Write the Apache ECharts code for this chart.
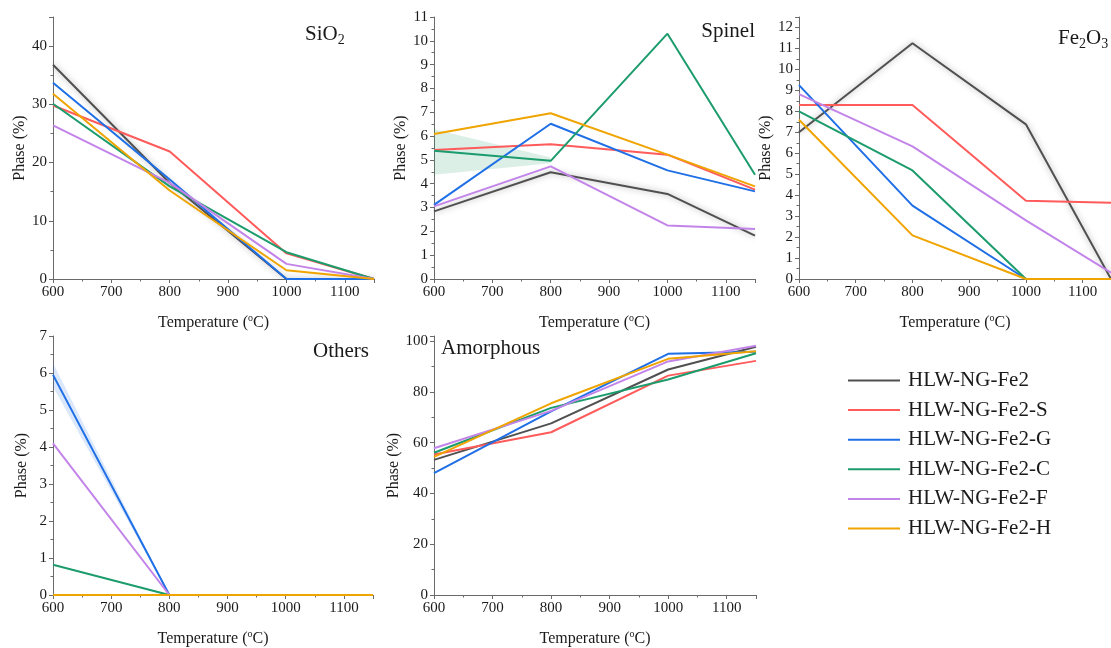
<!DOCTYPE html>
<html>
<head>
<meta charset="utf-8">
<script src="https://cdn.jsdelivr.net/npm/echarts@6/dist/echarts.min.js"></script>
<style>
  html, body { margin: 0; padding: 0; background: #fff; }
  #chart { width: 1111px; height: 648px; }
</style>
</head>
<body>
<div id="chart"></div>
<script>
// Firing temperatures (°C) shared by every panel
const temps = [600, 800, 1000, 1150];

const sampleNames = ['HLW-NG-Fe2', 'HLW-NG-Fe2-S', 'HLW-NG-Fe2-G', 'HLW-NG-Fe2-C', 'HLW-NG-Fe2-F', 'HLW-NG-Fe2-H'];
const sampleColors = ['#505050', '#ff5b5b', '#1f6fe6', '#1c9c6c', '#c384ea', '#f0a400'];

// SiO2 phase content (%)
const sio2Fe2 = [36.8, 16.5, 0, 0];
const sio2S   = [29.8, 21.9, 4.4, 0];
const sio2G   = [33.7, 17.1, 0, 0];
const sio2C   = [30.1, 15.9, 4.6, 0];
const sio2F   = [26.4, 16.5, 2.6, 0];
const sio2H   = [31.8, 15.2, 1.5, 0];

// Spinel phase content (%)
const spinelFe2 = [2.84, 4.48, 3.57, 1.82];
const spinelS   = [5.42, 5.66, 5.22, 3.75];
const spinelG   = [3.11, 6.52, 4.56, 3.68];
const spinelC   = [5.38, 4.96, 10.3, 4.38];
const spinelF   = [3.05, 4.73, 2.25, 2.10];
const spinelH   = [6.09, 6.96, 5.22, 3.89];
// uncertainty band of HLW-NG-Fe2-C spinel (600 and 800 °C)
const spinelCBandTemps = [600, 800];
const spinelCBandLow   = [4.38, 4.86];
const spinelCBandHigh  = [6.29, 5.10];

// Fe2O3 phase content (%)
const fe2o3Fe2 = [7.0, 11.25, 7.38, 0];
const fe2o3S   = [8.3, 8.3, 3.73, 3.64];
const fe2o3G   = [9.25, 3.5, 0, 0];
const fe2o3C   = [8.0, 5.18, 0, 0];
const fe2o3F   = [8.82, 6.33, 2.8, 0.3];
const fe2o3H   = [7.6, 2.08, 0, 0];

// Other crystalline phases (%)
const othersFe2 = [0, 0, 0, 0];
const othersS   = [0, 0, 0, 0];
const othersG   = [5.95, 0, 0, 0];
const othersC   = [0.82, 0, 0, 0];
const othersF   = [4.1, 0, 0, 0];
const othersH   = [0, 0, 0, 0];
// uncertainty band of HLW-NG-Fe2-G others (600 and 800 °C)
const othersGBandTemps = [600, 800];
const othersGBandLow   = [5.63, 0];
const othersGBandHigh  = [6.27, 0];

// Amorphous phase content (%)
const amorFe2 = [53.2, 67.6, 88.8, 97.8];
const amorS   = [55.3, 64.1, 86.4, 92.2];
const amorG   = [48.0, 72.3, 95.0, 95.8];
const amorC   = [56.0, 73.7, 84.9, 95.2];
const amorF   = [57.8, 72.5, 92.0, 98.2];
const amorH   = [54.4, 75.5, 93.0, 96.0];

// y-axis ranges per panel
const yMaxes     = [45, 11, 12.5, 7, 102];
const yIntervals = [10, 1, 1, 1, 20];

const FONT = "'Liberation Serif', 'DejaVu Serif', 'Times New Roman', serif";
const TXT = '#1a1a1a';
const AXIS = '#6a6a6a';

const panels = [
  { values: [sio2Fe2, sio2S, sio2G, sio2C, sio2F, sio2H], grid: { left: 53, top: 17, width: 321, height: 262 } },
  { values: [spinelFe2, spinelS, spinelG, spinelC, spinelF, spinelH], grid: { left: 434, top: 17, width: 321, height: 262 } },
  { values: [fe2o3Fe2, fe2o3S, fe2o3G, fe2o3C, fe2o3F, fe2o3H], grid: { left: 799, top: 17, width: 321, height: 262 } },
  { values: [othersFe2, othersS, othersG, othersC, othersF, othersH], grid: { left: 53, top: 336, width: 320, height: 261 } },
  { values: [amorFe2, amorS, amorG, amorC, amorF, amorH], grid: { left: 434, top: 336, width: 322, height: 261 } }
];

const nameStyle = {
  fontFamily: FONT, fontSize: 16, color: TXT,
  rich: { sup: { fontFamily: FONT, fontSize: 10, color: TXT, padding: [0, 0, 10, 0] } }
};

const grids = panels.map(p => Object.assign({ containLabel: false }, p.grid));

const plainNumber = v => String(v);

const xAxes = panels.map((p, i) => ({
  type: 'value', gridIndex: i, min: 600, max: 1150, interval: 100,
  axisLine: { show: true, onZero: false, lineStyle: { color: AXIS, width: 1 } },
  axisTick: { show: true, inside: false, length: 4, lineStyle: { color: AXIS } },
  minorTick: { show: true, splitNumber: 2, length: 2.5, lineStyle: { color: AXIS } },
  splitLine: { show: false },
  axisLabel: { fontFamily: FONT, fontSize: 15, color: TXT, margin: 6, showMaxLabel: false, formatter: plainNumber },
  name: 'Temperature ({sup|o}C)', nameLocation: 'middle', nameGap: 34,
  nameTextStyle: nameStyle
}));

const yAxes = panels.map((p, i) => ({
  type: 'value', gridIndex: i, min: 0, max: yMaxes[i], interval: yIntervals[i],
  axisLine: { show: true, onZero: false, lineStyle: { color: AXIS, width: 1 } },
  axisTick: { show: true, inside: false, length: 4, lineStyle: { color: AXIS } },
  minorTick: { show: true, splitNumber: 2, length: 2.5, lineStyle: { color: AXIS } },
  splitLine: { show: false },
  axisLabel: { fontFamily: FONT, fontSize: 15, color: TXT, margin: 6, formatter: plainNumber,
               showMaxLabel: (yMaxes[i] % yIntervals[i] === 0) },
  name: 'Phase (%)', nameLocation: 'middle', nameGap: 23,
  nameTextStyle: { fontFamily: FONT, fontSize: 16, color: TXT }
}));

const series = [];

// shaded uncertainty band: one polygon per segment, corners placed through the axes
function addBand(panelIdx, bandTemps, low, high, fill) {
  const segs = [];
  for (let k = 0; k < bandTemps.length - 1; k++) {
    segs.push([bandTemps[k], low[k], high[k], bandTemps[k + 1], low[k + 1], high[k + 1]]);
  }
  series.push({
    type: 'custom', xAxisIndex: panelIdx, yAxisIndex: panelIdx, silent: true, z: 1,
    encode: { x: [0, 3], y: [1, 2, 4, 5] },
    data: segs,
    renderItem: (params, api) => {
      const a = api.coord([api.value(0), api.value(1)]);
      const b = api.coord([api.value(0), api.value(2)]);
      const c = api.coord([api.value(3), api.value(5)]);
      const d = api.coord([api.value(3), api.value(4)]);
      return { type: 'polygon', shape: { points: [a, b, c, d] }, style: { fill: fill } };
    }
  });
}
addBand(1, spinelCBandTemps, spinelCBandLow, spinelCBandHigh, 'rgba(28,156,108,0.16)');
addBand(3, othersGBandTemps, othersGBandLow, othersGBandHigh, 'rgba(31,111,230,0.16)');

panels.forEach((p, i) => {
  p.values.forEach((vals, s) => {
    const glow = (s === 0 && i < 3);
    series.push({
      name: sampleNames[s], type: 'line', xAxisIndex: i, yAxisIndex: i,
      data: temps.map((t, k) => [t, vals[k]]),
      symbol: 'none', showSymbol: false, clip: true,
      itemStyle: { color: sampleColors[s] },
      lineStyle: Object.assign({ color: sampleColors[s], width: 2 },
        glow ? { shadowBlur: 6, shadowColor: 'rgba(0,0,0,0.35)' } : {}),
      z: 2 + s
    });
  });
});

const titleBase = {
  fontFamily: FONT, fontSize: 21, fontWeight: 'normal', color: TXT,
  rich: { sub: { fontFamily: FONT, fontSize: 14, color: TXT, padding: [12, 0, 0, 0] } }
};
const titles = [
  { text: 'SiO{sub|2}', left: 305, top: 21 },
  { text: 'Spinel', right: 356, top: 21 },
  { text: 'Fe{sub|2}O{sub|3}', left: 1058, top: 25 },
  { text: 'Others', right: 742, top: 341 },
  { text: 'Amorphous', left: 441, top: 338 }
].map(t => Object.assign({ padding: 0, textStyle: titleBase }, t));

const chart = echarts.init(document.getElementById('chart'), null, { renderer: 'canvas' });
chart.setOption({
  animation: false,
  backgroundColor: '#ffffff',
  title: titles,
  grid: grids,
  xAxis: xAxes,
  yAxis: yAxes,
  legend: {
    data: sampleNames, orient: 'vertical', left: 848, top: 370, padding: 0,
    icon: 'rect', itemWidth: 52, itemHeight: 2, itemGap: 8.6,
    textStyle: { fontFamily: FONT, fontSize: 21, color: TXT, padding: [0, 0, 0, 3] }
  },
  series: series
});
</script>
</body>
</html>
